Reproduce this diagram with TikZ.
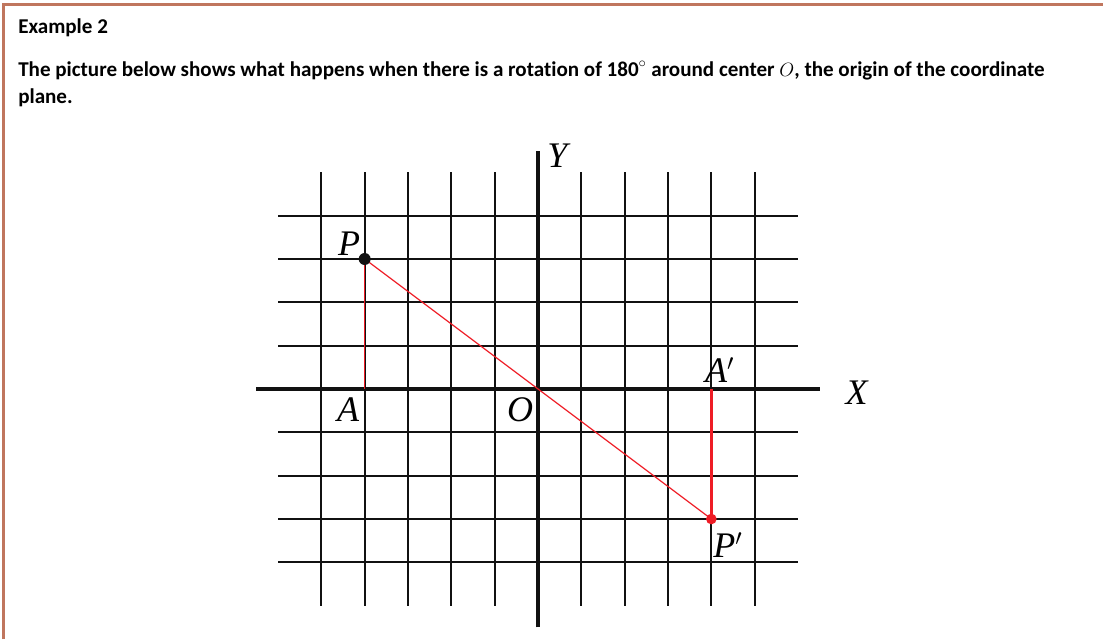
\documentclass[tikz,border=0pt]{standalone}
\usepackage{fontspec}
\setmainfont{Carlito}[Ligatures=CommonOff]
\newfontfamily\tnr{Liberation Serif}
\definecolor{frame}{HTML}{C0765E}
\definecolor{ink}{HTML}{111111}
\definecolor{rot}{HTML}{EE1C25}
\tikzset{
  gline/.style={ink,line width=1.4pt},
  axline/.style={ink,line width=2.3pt},
  seg/.style={rot,line width=0.9pt},
  bseg/.style={rot,line width=2.1pt},
  bdot/.style={circle,fill=ink,inner sep=0pt,minimum size=9pt},
  rdot/.style={circle,fill=rot,inner sep=0pt,minimum size=8pt},
  ptlbl/.style={inner sep=0pt,anchor=base west,font=\tnr\itshape\fontsize{27}{27}\selectfont},
  txt/.style={inner sep=0pt,anchor=base west,font=\bfseries\fontsize{15.8}{18}\selectfont},
}
\begin{document}
\begin{tikzpicture}[x=0.75pt,y=-0.75pt]
  \useasboundingbox (0,0) rectangle (1103,639);
  % ===================== frame and text =====================
  \draw[frame,line width=2.3pt] (3.5,639) -- (3.5,4.5) -- (1103,4.5);
  \node[txt] (title) at (18,33) {Example 2};
  \node[txt] (body1) at (18,76) {The picture below shows what happens when there is a rotation of $\mathbf{180}^{\circ}$ around center $O$, the origin of the coordinate};
  \node[txt] (body2) at (18,103) {plane.};
  % ===================== grid =====================
  \begin{scope}[shift={(538,389)},x=32.5pt,y=32.5pt]
    \foreach \i in {-5,...,-1,1,2,...,5} \draw[gline] (\i,-5) -- (\i,5);
    \foreach \j in {-4,...,-1,1,2,...,4} \draw[gline] (-6,\j) -- (6,\j);
    \draw[axline] (-6.5,0) -- (6.5,0);
    \draw[axline] (0,-5.5) -- (0,5.5);
    \coordinate (O) at (0,0);
    \coordinate (A) at (-4,0);
    \coordinate (Ap) at (4,0);
    \draw[seg] (A) -- (-4,3);
    \draw[seg] (-4,3) -- (O) -- (4,-3);
    \draw[bseg] (Ap) -- (4,-3);
    \node[bdot] (P) at (-4,3) {};
    \node[rdot] (Pp) at (4,-3) {};
    % labels
    \node[ptlbl] (lP) at (-4.62,3.09) {P};
    \node[ptlbl] (lA) at (-4.64,-0.76) {A};
    \node[ptlbl] (lO) at (-0.72,-0.76) {O};
    \node[ptlbl] (lAp) at (3.85,0.14) {A$'$};
    \node[ptlbl] (lPp) at (4.04,-3.88) {P$'$};
    \node[ptlbl] (lY) at (0.21,5.12) {Y};
    \node[ptlbl] (lX) at (7.09,-0.35) {X};
  \end{scope}
\end{tikzpicture}
\end{document}
